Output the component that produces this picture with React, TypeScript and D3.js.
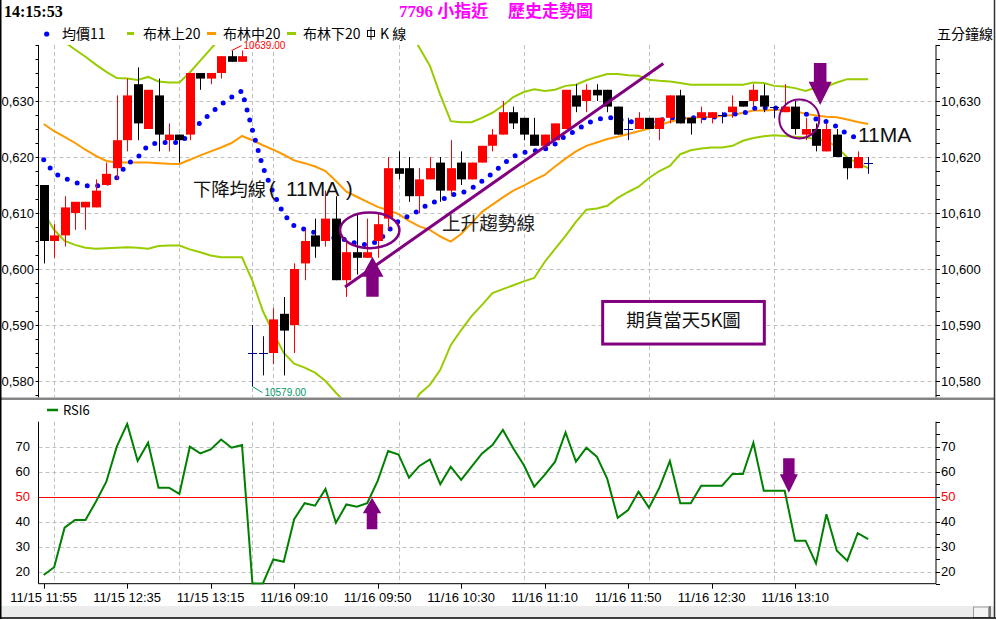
import React from 'react';
import * as d3 from 'd3';

// ---------- data ----------
const xTickBars = [0, 8, 16, 24, 32, 40, 48, 56, 64, 72];
const xTickLabels = ['11/15 11:55', '11/15 12:35', '11/15 13:15', '11/16 09:10', '11/16 09:50', '11/16 10:30', '11/16 11:10', '11/16 11:50', '11/16 12:30', '11/16 13:10'];
const gridBars = [1, 13, 20, 22, 34, 46, 58, 70];
const priceTicks = [10580, 10590, 10600, 10610, 10620, 10630];
const rsiTicks = [20, 30, 40, 60, 70];

const opens = [10615, 10605, 10606, 10610, 10611, 10611, 10615, 10618, 10623, 10633, 10625, 10631, 10623, 10624, 10624, 10635, 10634, 10635, 10638, 10637,
  10585, 10585, 10585, 10592, 10590, 10601, 10606, 10605, 10609, 10598, 10603, 10602, 10605, 10609, 10618, 10618, 10613, 10616, 10619, 10614,
  10619, 10616, 10619, 10622, 10624, 10628, 10627, 10624, 10622, 10623, 10625, 10631, 10630, 10632, 10632, 10629, 10625, 10625, 10627, 10625,
  10627, 10631, 10627, 10627, 10627, 10627.5, 10628, 10630, 10630, 10631, 10629, 10628, 10629, 10624, 10625, 10621, 10624, 10620, 10618, 10619];
const highs = [10615, 10608, 10613, 10612, 10612, 10616, 10619, 10631, 10634, 10636, 10632, 10634, 10626, 10624, 10635, 10635, 10635, 10638, 10639, 10639,
  10590, 10588, 10593, 10595, 10601, 10607, 10609, 10614, 10613, 10605, 10610, 10609, 10610, 10620, 10621, 10620, 10618, 10620, 10620, 10623,
  10621, 10619, 10622, 10625, 10630, 10629, 10627, 10627, 10624, 10626, 10632, 10633, 10633, 10633, 10632, 10629, 10627, 10628, 10627, 10627,
  10631, 10632, 10627, 10629, 10628, 10628, 10631, 10630, 10633, 10633, 10629, 10633, 10630, 10627, 10626, 10626, 10625, 10620, 10621, 10620];
const lows = [10601, 10602, 10604, 10607, 10607, 10611, 10615, 10616, 10621, 10623, 10625, 10621, 10621, 10619, 10623, 10632, 10633, 10634, 10637, 10637,
  10579, 10581, 10583, 10581, 10585, 10598, 10602, 10604, 10598, 10595, 10599, 10602, 10602, 10607, 10616, 10612, 10610, 10616, 10612, 10613,
  10615, 10616, 10619, 10621, 10624, 10625, 10623, 10622, 10622, 10623, 10625, 10628, 10628, 10630, 10628, 10624, 10623, 10625, 10625, 10623,
  10626, 10626, 10624, 10626, 10626, 10626, 10627, 10629, 10629, 10628, 10627, 10628, 10624, 10623, 10621, 10621, 10620, 10616, 10618, 10617];
const closes = [10605, 10606, 10611, 10612, 10612, 10614, 10617, 10623, 10631, 10626, 10632, 10624, 10624, 10623, 10635, 10634, 10635, 10638, 10637, 10638,
  10585, 10585, 10591, 10589, 10600, 10605, 10604, 10609, 10598, 10603, 10602, 10603, 10608, 10618, 10617, 10613, 10616, 10618, 10614, 10618,
  10616, 10619, 10622, 10624, 10628, 10626, 10624, 10622, 10624, 10626, 10632, 10629, 10632, 10631, 10629, 10624, 10625, 10627, 10625, 10627,
  10631, 10626, 10626, 10628, 10628, 10627.5, 10629, 10629, 10632, 10629, 10629, 10629, 10625, 10625, 10622, 10625, 10620, 10618, 10620, 10619];

const ma11 = [10619.5, 10617.1, 10616.2, 10615.5, 10614.9, 10614.8, 10615.2, 10616.3, 10618.75, 10619.9,
  10622.1, 10622.6, 10622.6, 10622.6, 10624.0, 10626.2, 10627.8, 10629.4, 10630.7, 10631.8,
  10624.8, 10618.2, 10613.6, 10609.8, 10607.7, 10607.1, 10606.5, 10605.9, 10605.5, 10605.2,
  10604.5, 10604.3, 10604.9, 10606.8, 10608.6, 10609.5, 10610.5, 10611.8, 10612.2, 10613.2,
  10613.5, 10614.4, 10615.7, 10617.1, 10618.7, 10620.1, 10620.8, 10621.1, 10621.4, 10622.3,
  10623.8, 10624.7, 10626.0, 10626.7, 10627.1, 10626.8, 10626.4, 10626.0, 10626.2, 10626.5,
  10627.0, 10627.0, 10627.0, 10627.0, 10627.0, 10627.5, 10627.7, 10627.7, 10628.7, 10628.8,
  10628.8, 10628.6, 10628.1, 10627.7, 10626.8, 10626.3, 10625.4, 10624.1, 10623.3];

const bollUp = [10643.25, 10641.9, 10640.5, 10639.2, 10637.9, 10636.5, 10635.2, 10634.1, 10634.0, 10633.75,
  10634.3, 10633.5, 10633.3, 10633.3, 10635.1, 10637.2, 10639.3, 10641.4, 10643.5, 10645,
  10648, 10651, 10653, 10654, 10654, 10654, 10653, 10652, 10651, 10650,
  10649, 10648, 10646.5, 10645.5, 10644, 10642.7, 10639.5, 10636.3, 10631.1, 10626.4,
  10626.2, 10626.2, 10627.0, 10627.9, 10629.2, 10630.7, 10631.6, 10632.1, 10631.8, 10632.0,
  10632.7, 10632.9, 10633.7, 10634.3, 10634.8, 10634.8, 10634.6, 10634.5, 10633.8, 10633.6,
  10633.5, 10633.2, 10632.9, 10632.9, 10632.9, 10632.9, 10632.9, 10632.9, 10633.3, 10633.2,
  10632.7, 10632.6, 10632.3, 10631.8, 10632.4, 10632.6, 10633.3, 10633.9, 10633.9, 10633.9];
const bollMid = [10625.9, 10624.6, 10623.6, 10622.5, 10621.3, 10620.2, 10619.3, 10619.0, 10619.0, 10619.0,
  10619.0, 10618.9, 10618.8, 10618.75, 10619.5, 10620.3, 10621.0, 10621.7, 10622.5, 10623.75,
  10623.0, 10622.1, 10621.3, 10620.4, 10619.4, 10618.9, 10618.3, 10617.5, 10615.7, 10613.8,
  10612.9, 10612.0, 10611.1, 10610.5, 10609.8, 10608.6, 10607.6, 10607.0, 10605.8, 10604.9,
  10606.25, 10608.2, 10610.2, 10611.5, 10612.8, 10614.0, 10614.9, 10615.9, 10616.8, 10618.3,
  10619.7, 10621.0, 10622.0, 10622.6, 10623.2, 10623.6, 10624.1, 10624.6, 10625.1, 10625.7,
  10626.3, 10626.7, 10627.0, 10627.1, 10627.2, 10627.3, 10627.5, 10627.9, 10628.3, 10628.3,
  10628.4, 10628.5, 10628.2, 10627.7, 10627.4, 10627.2, 10627.1, 10626.7, 10626.25, 10625.9];
const bollLow = [10610, 10607, 10605, 10604.3, 10603.8, 10603.6, 10603.7, 10603.8, 10603.9, 10603.8,
  10603.6, 10604.1, 10604.2, 10604.2, 10603.5, 10603.0, 10602.4, 10602.1, 10602.1, 10602.1,
  10597.9, 10592.5, 10588.6, 10585.0, 10583.1, 10582.4, 10581.5, 10580.0, 10577.9, 10576,
  10575, 10574, 10573.5, 10573, 10573, 10574.5, 10577.7, 10579.3, 10582.0, 10586.4,
  10589.1, 10591.6, 10593.6, 10595.7, 10596.4, 10597.1, 10597.8, 10598.4, 10601.25, 10603.6,
  10605.9, 10608.4, 10610.6, 10610.8, 10611.3, 10612.7, 10613.75, 10614.7, 10616.25, 10617.5,
  10618.4, 10620.5, 10621.2, 10621.5, 10621.7, 10621.7, 10622.0, 10622.9, 10623.4, 10623.7,
  10623.9, 10623.75, 10623.6, 10623.5, 10623.2, 10622.9, 10621.8, 10619.9, 10618.9, 10618.0];

const rsi6 = [18.7, 21.8, 37.6, 40.7, 40.7, 48, 56, 70, 79.1, 64.3,
  71.6, 53.6, 53.6, 51.1, 70, 67.3, 68.9, 72.9, 69.6, 70.7,
  15.3, 15.3, 24.9, 24, 41, 47.4, 46.4, 53.1, 39.6, 46.9,
  46, 47.4, 56.3, 68.3, 66.9, 57.6, 62.3, 64.9, 55, 62,
  56.7, 62, 67.3, 70.7, 76.7, 69.3, 62.7, 54, 58.7, 64,
  75.7, 64, 69.6, 66, 57.1, 41.6, 44.7, 52, 45.6, 53.6,
  64.3, 47.4, 47.4, 54.4, 54.4, 54.4, 59.1, 59.1, 71.6, 52.4,
  52.4, 52.4, 32.4, 32.4, 23.3, 43, 28.4, 24.4, 35.4, 33];

const highBar = 18;
const lowBar = 20;

const SANS = "'Liberation Sans', Arial, sans-serif";
const CJK = "'Noto Sans CJK TC', 'Noto Sans CJK SC', sans-serif";
const SERIF = "'Liberation Serif', 'Noto Sans CJK TC', serif";
const PURPLE = '#800080';

export default function App() {
  const W = 996, H = 620;
  const L = 38.5, R = 936;
  const pTop = 45, pBot = 397.5;
  const rTop = 421.7, rBot = 583.7;

  const x = d3.scaleBand<number>().domain(d3.range(86)).range([L, R]);
  const step = x.step();
  const cx = (i: number) => (x(i) as number) + x.bandwidth() / 2;
  const fx = (f: number) => L + (f + 0.5) * step; // fractional bar position
  const y = d3.scaleLinear().domain([10580, 10630]).range([381, 101]);
  const yr = d3.scaleLinear().domain([20, 70]).range([571.7, 446.7]);

  const lineP = d3.line<number>().x((_, i) => cx(i)).y(d => y(d));
  const lineR = d3.line<number>().x((_, i) => cx(i)).y(d => yr(d));

  const bodyW = 9;
  const grid = '#c0c0c0';

  const minorP = d3.range(10577.5, 10640.01, 2.5);
  const minorR = d3.range(15, 80.01, 5);

  const upArrow = (xc: number, tip: number, headB: number, bot: number, hw: number, sw: number) =>
    `M${xc},${tip} L${xc + hw},${headB} L${xc + sw},${headB} L${xc + sw},${bot} L${xc - sw},${bot} L${xc - sw},${headB} L${xc - hw},${headB} Z`;

  return (
    <div style={{ position: 'absolute', left: 0, top: 0 }}>
      <svg width={W} height={H} viewBox={`0 0 ${W} ${H}`} style={{ display: 'block', background: '#fff' }}>
        <defs>
          <clipPath id="cp"><rect x={L} y={pTop} width={R - L} height={pBot - pTop} /></clipPath>
          <clipPath id="cr"><rect x={L} y={rTop} width={R - L} height={rBot - rTop + 1} /></clipPath>
        </defs>

        {/* header */}
        <text x={4} y={17} fontFamily={SERIF} fontWeight="bold" fontSize={16} fill="#000">14:15:53</text>
        <text y={17} fontFamily={SERIF} fontWeight="bold" fontSize={17} fill="#ff00ff">
          <tspan x={399}>7796 小指近</tspan>
          <tspan x={508}>歷史走勢圖</tspan>
        </text>

        {/* legend */}
        <circle cx={46.7} cy={34} r={2.6} fill="#0000ff" />
        <text x={62} y={39} fontFamily={CJK} fontSize={14} fill="#000">均價11</text>
        <line x1={127} x2={134} y1={33.5} y2={33.5} stroke="#99cc00" strokeWidth={3} />
        <text x={143} y={39} fontFamily={CJK} fontSize={14} fill="#000">布林上20</text>
        <line x1={207} x2={216} y1={33.5} y2={33.5} stroke="#ff9900" strokeWidth={3} />
        <text x={223} y={39} fontFamily={CJK} fontSize={14} fill="#000">布林中20</text>
        <line x1={287} x2={296} y1={33.5} y2={33.5} stroke="#99cc00" strokeWidth={3} />
        <text x={303} y={39} fontFamily={CJK} fontSize={14} fill="#000">布林下20</text>
        <line x1={371} x2={371} y1={27} y2={40} stroke="#000" strokeWidth={1} />
        <rect x={367.5} y={30.5} width={7} height={6} fill="#fff" stroke="#000" strokeWidth={1} />
        <line x1={371} x2={371} y1={30.5} y2={36.5} stroke="#000" strokeWidth={1} />
        <text x={380} y={39} fontFamily={CJK} fontSize={14} fill="#000">K 線</text>
        <text x={937} y={39} fontFamily={CJK} fontSize={14} fill="#000">五分鐘線</text>

        {/* price grid */}
        {priceTicks.map(t => (
          <line key={'pg' + t} x1={L} x2={R} y1={Math.round(y(t)) + 0.5} y2={Math.round(y(t)) + 0.5} stroke={grid} strokeDasharray="4 3" />
        ))}
        {gridBars.map(b => (
          <line key={'vg' + b} x1={Math.round(cx(b)) + 0.5} x2={Math.round(cx(b)) + 0.5} y1={pTop} y2={pBot} stroke={grid} strokeDasharray="4 3" />
        ))}

        {/* price axes */}
        <line x1={L} x2={L} y1={pTop} y2={pBot} stroke="#000" />
        <line x1={R} x2={R} y1={pTop} y2={pBot} stroke="#000" />
        {minorP.map(t => (
          <g key={'mt' + t}>
            <line x1={L - 3} x2={L} y1={Math.round(y(t)) + 0.5} y2={Math.round(y(t)) + 0.5} stroke="#000" />
            <line x1={R} x2={R + 4} y1={Math.round(y(t)) + 0.5} y2={Math.round(y(t)) + 0.5} stroke="#000" />
          </g>
        ))}
        {priceTicks.map(t => (
          <g key={'pl' + t}>
            <text x={34} y={y(t) + 4.6} textAnchor="end" fontFamily={SANS} fontSize={13} fill="#000">{d3.format(',')(t)}</text>
            <text x={941} y={y(t) + 4.6} fontFamily={SANS} fontSize={13} fill="#000">{d3.format(',')(t)}</text>
          </g>
        ))}

        {/* bands, MA, candles */}
        <g clipPath="url(#cp)">
          <path d={lineP(bollUp) || ''} fill="none" stroke="#99cc00" strokeWidth={2} />
          <path d={lineP(bollLow) || ''} fill="none" stroke="#99cc00" strokeWidth={2} />
          <path d={lineP(bollMid) || ''} fill="none" stroke="#ff9900" strokeWidth={2} />
          <path d={lineP(ma11) || ''} fill="none" stroke="#0000ff" strokeWidth={5} strokeLinecap="round" strokeDasharray="0 10.5" />
          {opens.map((o, i) => {
            const c = closes[i];
            const xc = Math.round(cx(i)) + 0.5;
            if (o === c) {
              return (
                <g key={'k' + i}>
                  <line x1={xc} x2={xc} y1={y(highs[i])} y2={y(lows[i])} stroke="#000080" />
                  <line x1={xc - bodyW / 2} x2={xc + bodyW / 2} y1={Math.round(y(o)) + 0.5} y2={Math.round(y(o)) + 0.5} stroke="#000080" />
                </g>
              );
            }
            const col = c > o ? '#ff0000' : '#000000';
            const top = y(Math.max(o, c));
            const bot = y(Math.min(o, c));
            return (
              <g key={'k' + i}>
                <line x1={xc} x2={xc} y1={y(highs[i])} y2={y(lows[i])} stroke={col} />
                <rect x={xc - bodyW / 2} y={top} width={bodyW} height={Math.max(1, bot - top)} fill={col} />
              </g>
            );
          })}
        </g>

        {/* high / low labels */}
        <line x1={cx(highBar)} y1={y(highs[highBar])} x2={cx(highBar) + 10} y2={y(highs[highBar]) - 5} stroke="#ff0000" />
        <text x={cx(highBar) + 12} y={y(highs[highBar]) - 1.3} fontFamily={SANS} fontSize={10} fill="#ff0000">{highs[highBar].toFixed(2)}</text>
        <line x1={cx(lowBar)} y1={y(lows[lowBar])} x2={cx(lowBar) + 10} y2={y(lows[lowBar]) + 6} stroke="#009966" />
        <text x={cx(lowBar) + 12} y={y(lows[lowBar]) + 9.5} fontFamily={SANS} fontSize={10} fill="#009966">{lows[lowBar].toFixed(2)}</text>

        {/* annotations price */}
        <line x1={fx(28.87)} y1={y(10596.8)} x2={fx(59.37)} y2={y(10636.7)} stroke={PURPLE} strokeWidth={3} />
        <ellipse cx={fx(31.24)} cy={y(10606.9)} rx={29.7} ry={17.8} fill="none" stroke={PURPLE} strokeWidth={2.5} />
        <ellipse cx={fx(72.4)} cy={y(10626.8)} rx={20} ry={19.5} fill="none" stroke={PURPLE} strokeWidth={2} />
        <path d={upArrow(fx(31.5), y(10602.2), y(10598.6), y(10595.05), 11, 6.2)} fill={PURPLE} />
        <path d={upArrow(fx(74.4), y(10629.3), y(10633.45), y(10636.8), 11.5, 6.3)} fill={PURPLE} />
        <rect x={fx(53.56)} y={y(10594.2)} width={fx(69.05) - fx(53.56)} height={y(10586.6) - y(10594.2)} fill="#fff" stroke={PURPLE} strokeWidth={3} />
        <text x={(fx(53.56) + fx(69.05)) / 2} y={327} textAnchor="middle" fontFamily={CJK} fontSize={18.5} fill="#111">期貨當天5K圖</text>
        <text y={195.5} fill="#111">
          <tspan x={193} fontFamily={CJK} fontSize={18.3}>下降均線</tspan>
          <tspan x={269} fontFamily={SANS} fontSize={20}>(</tspan>
          <tspan x={286} fontFamily={SANS} fontSize={21}>11MA</tspan>
          <tspan x={346} fontFamily={SANS} fontSize={20}>)</tspan>
        </text>
        <text x={442} y={230} fontFamily={CJK} fontSize={18.6} fill="#222">上升趨勢線</text>
        <text x={858} y={141.7} fontFamily={SANS} fontSize={21} fill="#111">11MA</text>

        {/* separator */}
        <rect x={0} y={397.5} width={995} height={2.5} fill="#858585" />

        {/* RSI panel */}
        <line x1={47} x2={58} y1={410} y2={410} stroke="#008000" strokeWidth={2.5} />
        <text x={63} y={415} fontFamily={CJK} fontSize={13} fill="#000">RSI6</text>
        {rsiTicks.map(t => (
          <line key={'rg' + t} x1={L} x2={R} y1={Math.round(yr(t)) + 0.5} y2={Math.round(yr(t)) + 0.5} stroke={grid} strokeDasharray="4 3" />
        ))}
        {gridBars.map(b => (
          <line key={'rvg' + b} x1={Math.round(cx(b)) + 0.5} x2={Math.round(cx(b)) + 0.5} y1={rTop} y2={rBot} stroke={grid} strokeDasharray="4 3" />
        ))}
        <line x1={L} x2={R} y1={Math.round(yr(50)) + 0.5} y2={Math.round(yr(50)) + 0.5} stroke="#ff0000" />
        <line x1={L} x2={L} y1={rTop} y2={rBot} stroke="#000" />
        <line x1={R} x2={R} y1={rTop} y2={rBot} stroke="#000" />
        <line x1={L} x2={R} y1={rBot} y2={rBot} stroke="#000" />
        {minorR.map(t => (
          <line key={'rt' + t} x1={R} x2={R + 4} y1={Math.round(yr(t)) + 0.5} y2={Math.round(yr(t)) + 0.5} stroke="#000" />
        ))}
        {[20, 30, 40, 50, 60, 70].map(t => (
          <g key={'rl' + t}>
            <text x={30} y={yr(t) + 4.6} textAnchor="end" fontFamily={SANS} fontSize={13} fill={t === 50 ? '#ff0000' : '#000'}>{t}</text>
            <text x={941} y={yr(t) + 4.6} fontFamily={SANS} fontSize={13} fill={t === 50 ? '#ff0000' : '#000'}>{t}</text>
          </g>
        ))}
        <g clipPath="url(#cr)">
          <path d={lineR(rsi6) || ''} fill="none" stroke="#008000" strokeWidth={2} strokeLinejoin="miter" />
        </g>
        <path d={upArrow(fx(31.46), yr(49.6), yr(43.4), yr(37), 9.2, 5.3)} fill={PURPLE} />
        <path d={upArrow(fx(71.4), yr(51.6), yr(59), yr(65.4), 9, 5.7)} fill={PURPLE} />

        {/* x axis ticks/labels */}
        {xTickBars.map((b, k) => (
          <g key={'xt' + b}>
            <line x1={Math.round(cx(b)) + 0.5} x2={Math.round(cx(b)) + 0.5} y1={rBot} y2={rBot + 5} stroke="#000" />
            <text x={cx(b)} y={602} textAnchor="middle" fontFamily={SANS} fontSize={13} fill="#000">{xTickLabels[k]}</text>
          </g>
        ))}

        {/* window frame & scroll bar */}
        <rect x={0} y={606} width={994} height={11.5} fill="#ececec" />
        <rect x={973.5} y={607} width={15} height={10.5} fill="#f4f4f4" stroke="#9a9a9a" />
        <line x1={990} x2={990} y1={606} y2={618} stroke="#555" strokeWidth={1.5} />
        <line x1={0} x2={996} y1={618} y2={618} stroke="#000" strokeWidth={1.5} />
        <line x1={0.75} x2={0.75} y1={0} y2={619} stroke="#000" strokeWidth={1.5} />
        <line x1={994.5} x2={994.5} y1={0} y2={619} stroke="#333" strokeWidth={1.5} />
      </svg>
    </div>
  );
}
